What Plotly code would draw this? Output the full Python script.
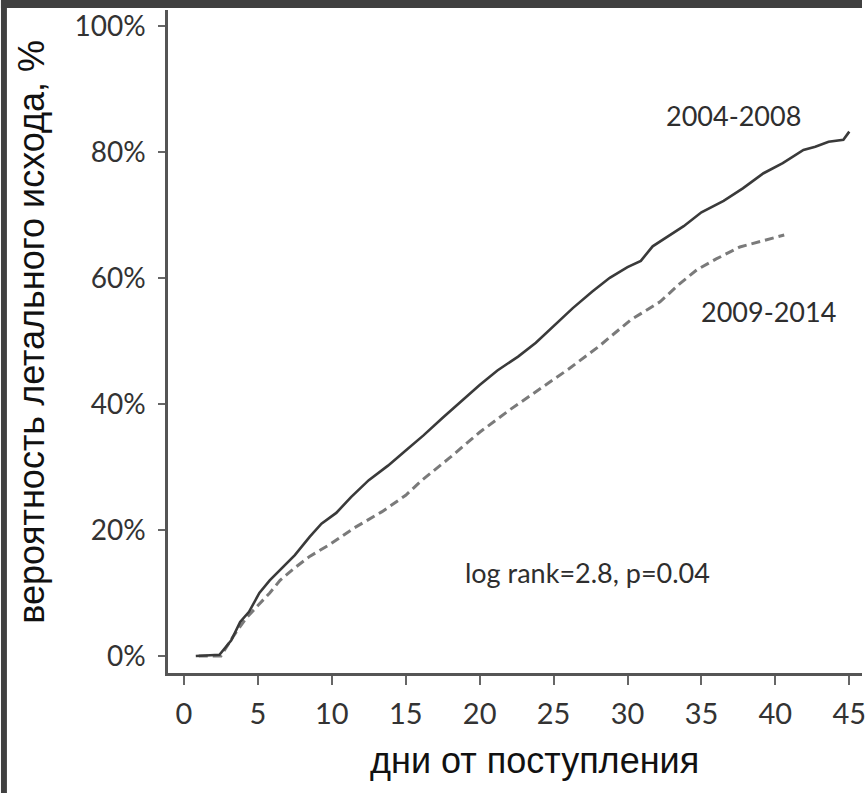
import plotly.graph_objects as go

# ---- data ----
days_0408 = [0.8, 2.4, 3.2, 3.8, 4.4, 5.1, 5.8, 6.7, 7.5, 8.5, 9.3, 10.3, 11.3, 12.5, 13.8, 15.0,
             16.2, 17.5, 18.8, 20.0, 21.2, 22.6, 23.8, 25.0, 26.3, 27.6, 28.8, 30.0, 30.9, 31.7,
             32.5, 33.8, 35.0, 36.5, 37.8, 39.2, 40.5, 41.9, 42.7, 43.6, 44.6, 45.0]
mort_0408 = [0.0, 0.2, 2.5, 5.4, 7.0, 10.0, 12.0, 14.1, 16.0, 18.9, 21.0, 22.7, 25.2, 27.9, 30.2, 32.6,
             35.0, 37.8, 40.5, 43.0, 45.3, 47.5, 49.7, 52.3, 55.2, 57.8, 60.0, 61.7, 62.7, 65.0,
             66.2, 68.2, 70.4, 72.2, 74.2, 76.6, 78.2, 80.3, 80.8, 81.6, 81.9, 83.2]

days_0914 = [1.0, 2.5, 3.3, 4.2, 5.0, 5.8, 6.5, 7.5, 8.5, 9.8, 11.5, 13.4, 15.0, 16.1, 18.0, 20.0,
             22.0, 24.0, 26.0, 28.0, 30.2, 32.2, 33.5, 34.7, 36.0, 37.6, 39.0, 40.6]
mort_0914 = [0.0, 0.0, 3.0, 6.0, 8.0, 10.0, 12.0, 14.0, 15.8, 17.6, 20.3, 22.9, 25.5, 27.9, 31.5, 35.5,
             39.0, 42.3, 45.5, 49.0, 53.3, 56.2, 59.0, 61.3, 63.0, 64.9, 65.8, 66.8]

x_ticks = [0, 5, 10, 15, 20, 25, 30, 35, 40, 45]
y_ticks = [0, 20, 40, 60, 80, 100]
y_ticklabels = ["0%", "20%", "40%", "60%", "80%", "100%"]

label_0408 = "2004-2008"
label_0914 = "2009-2014"
stat_text = "log rank=2.8, p=0.04"
x_title = "дни от поступления"
y_title = "вероятность летального исхода, %"

W, H = 866, 793
ML, MR, MT, MB = 168, 0, 10, 120
PW, PH = W - ML - MR, H - MT - MB


def px_x(p):
    return (p - ML) / PW


def px_y(p):
    return 1 - (p - MT) / PH


fig = go.Figure()
fig.add_trace(go.Scatter(x=days_0914, y=mort_0914, mode="lines",
                         line=dict(color="#7a7a7a", width=3, dash="9px,5px"),
                         showlegend=False, hoverinfo="skip"))
fig.add_trace(go.Scatter(x=days_0408, y=mort_0408, mode="lines",
                         line=dict(color="#3a3a3a", width=2.6),
                         showlegend=False, hoverinfo="skip"))

fig.update_xaxes(range=[-1.08, 45.86], tickvals=x_ticks, ticktext=[str(v) for v in x_ticks],
                 showgrid=False, zeroline=False, showline=True, linecolor="#555555", linewidth=2.5,
                 ticks="outside", ticklen=9, tickwidth=2, tickcolor="#666666",
                 tickfont=dict(family="Lato, sans-serif", size=29, color="#333333"),
                 ticklabelstandoff=4, ticklabeloverflow="allow")
fig.update_yaxes(range=[-2.7, 102.5], tickvals=y_ticks, ticktext=y_ticklabels,
                 showgrid=False, zeroline=False, showline=True, linecolor="#555555", linewidth=2.5,
                 ticks="outside", ticklen=7, tickwidth=2, tickcolor="#666666",
                 tickfont=dict(family="Lato, sans-serif", size=28, color="#333333"),
                 ticklabelstandoff=7, ticklabeloverflow="allow")

ann_font = dict(family="Lato, sans-serif", size=27, color="#2e2e2e")


def add_text(px, py, text, font, angle=0):
    fig.add_annotation(x=px_x(px), y=px_y(py), xref="paper", yref="paper", text=text,
                       xanchor="center", yanchor="middle", textangle=angle,
                       showarrow=False, font=font)


add_text(737, 115, label_0408, ann_font)
add_text(772, 312, label_0914, ann_font)
add_text(590, 572, stat_text, ann_font)
title_font = dict(family="Liberation Sans, Arial", size=36, color="#111111")
add_text(537, 760, x_title, title_font)
add_text(30, 332, y_title, title_font, angle=-90)

# dark frame at top and left edges
fig.add_shape(type="rect", xref="paper", yref="paper", x0=px_x(0), x1=px_x(W), y0=px_y(8), y1=px_y(0),
              fillcolor="#404040", line=dict(width=0), layer="above")
fig.add_shape(type="rect", xref="paper", yref="paper", x0=px_x(0), x1=px_x(6), y0=px_y(H), y1=px_y(0),
              fillcolor="#404040", line=dict(width=0), layer="above")

fig.update_layout(width=W, height=H, margin=dict(l=ML, r=MR, t=MT, b=MB),
                  paper_bgcolor="white", plot_bgcolor="white")

fig.write_html("out.html")
